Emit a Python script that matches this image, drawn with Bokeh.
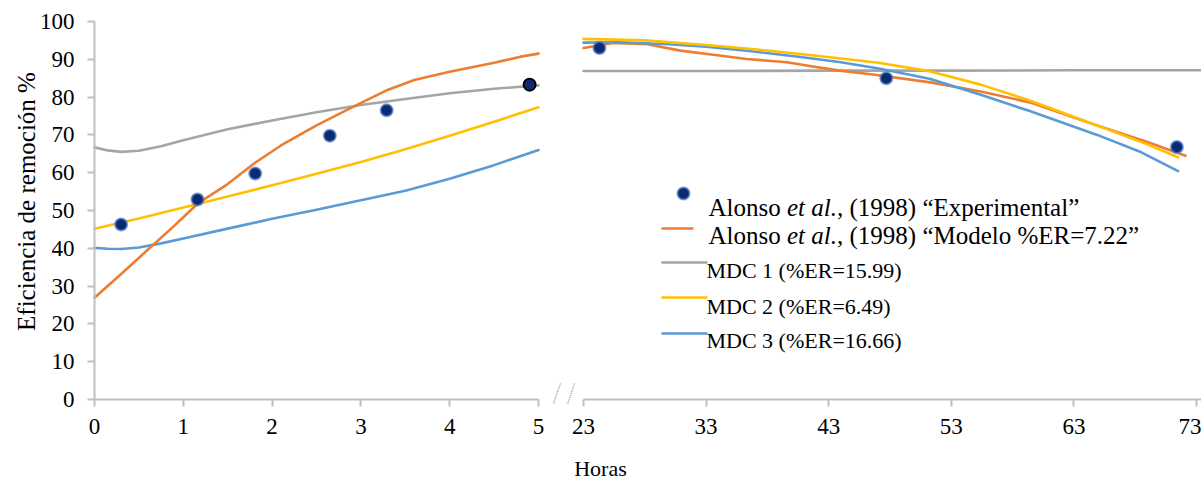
from bokeh.plotting import figure
from bokeh.layouts import row
from bokeh.models import Range1d, FixedTicker, Label, Arrow
from bokeh.embed import file_html
from bokeh.resources import INLINE

# ---------------- data ----------------
# Experimental points (Alonso et al., 1998)
exp_left_h = [0.3, 1.16, 1.81, 2.65, 3.29]
exp_left_v = [46.3, 52.9, 59.8, 69.8, 76.5]
exp_last_h = [4.9]
exp_last_v = [83.3]
exp_right_h = [24.3, 47.7, 71.4]
exp_right_v = [93.0, 85.0, 66.8]

# Modelo (orange)
modelo_left_h = [0, 0.3, 0.6, 0.9, 1.0, 1.16, 1.5, 1.8, 2.1, 2.5, 2.9, 3.3, 3.6, 4.0, 4.5, 4.8, 5.0]
modelo_left_v = [26.9, 33.2, 39.6, 46.0, 48.2, 51.8, 57.0, 62.5, 67.2, 72.5, 77.3, 81.9, 84.5, 86.7, 89.1, 90.7, 91.5]
modelo_right_h = [23, 25.4, 28.2, 30.9, 33.1, 36.3, 39.6, 41.7, 43.9, 46.6, 51.3, 55.4, 59.4, 64.9, 69, 72.1]
modelo_right_v = [93.0, 94.3, 94.0, 92.3, 91.4, 90.1, 89.2, 88.1, 87.0, 86.0, 83.9, 81.5, 78.6, 72.5, 68.1, 64.5]

# MDC 1 (gray)
mdc1_left_h = [0, 0.15, 0.3, 0.5, 0.75, 1.0, 1.5, 2.0, 2.5, 3.0, 3.5, 4.0, 4.5, 5.0]
mdc1_left_v = [66.7, 65.9, 65.5, 65.8, 67.0, 68.6, 71.5, 73.8, 76.0, 77.9, 79.5, 81.0, 82.2, 83.1]
mdc1_right_h = [23, 33, 43, 53, 63, 73.4]
mdc1_right_v = [86.9, 86.9, 87.0, 87.0, 87.1, 87.1]

# MDC 2 (yellow)
mdc2_left_h = [0, 0.5, 1, 1.5, 2, 2.5, 3, 3.5, 4, 4.5, 5]
mdc2_left_v = [45.2, 47.9, 50.8, 53.7, 56.7, 59.7, 62.8, 66.2, 69.8, 73.5, 77.3]
mdc2_right_h = [23, 28, 32.5, 36.5, 40.7, 44, 47.2, 51.3, 55.4, 59.4, 64.9, 69, 71.5]
mdc2_right_v = [95.4, 95.0, 93.9, 92.8, 91.4, 90.2, 89.0, 86.8, 83.3, 79.1, 72.5, 67.5, 64.1]

# MDC 3 (blue)
mdc3_left_h = [0, 0.15, 0.3, 0.5, 0.75, 1.0, 1.5, 2.0, 2.5, 3.0, 3.5, 4.0, 4.5, 5.0]
mdc3_left_v = [40.1, 39.9, 39.8, 40.2, 41.3, 42.6, 45.2, 47.8, 50.2, 52.7, 55.2, 58.4, 62.0, 66.0]
mdc3_right_h = [23, 26, 30, 33, 36.5, 40.7, 44, 47.2, 51.3, 55.4, 59.4, 64.9, 68.5, 71.5]
mdc3_right_v = [94.4, 94.5, 94.0, 93.3, 92.2, 90.6, 89.2, 87.5, 84.8, 80.6, 76.3, 70.0, 65.4, 60.4]

left_ticks = [0, 1, 2, 3, 4, 5]
right_ticks = [23, 33, 43, 53, 63, 73]
y_ticks = [0, 10, 20, 30, 40, 50, 60, 70, 80, 90, 100]

y_title = "Eficiencia de remoci\u00f3n %"
x_title = "Horas"
legend_labels = [
    ("Alonso ", "et al.", ", (1998) \u201cExperimental\u201d"),
    ("Alonso ", "et al.", ", (1998) \u201cModelo %ER=7.22\u201d"),
    "MDC 1 (%ER=15.99)",
    "MDC 2 (%ER=6.49)",
    "MDC 3 (%ER=16.66)",
]

# ---------------- style / layout ----------------
FONT = "Liberation Serif"
C_ORANGE = "#ED7D31"
C_GRAY = "#A5A5A5"
C_YELLOW = "#FFC000"
C_BLUE = "#5B9BD5"
C_PT = "#0B2A6F"
C_PT_EDGE = "#4A78C8"
C_AXIS = "#BFBFBF"
LW = 2.6

H = 480
TOTAL_W = 1201
SPLIT = 563                 # where the two canvases meet
X0_PX, X5_PX = 94, 538      # pixel of 0 h and 5 h
X23_PX, X73_PX = 583, 1196  # pixel of 23 h and 73 h
FT, FB = 21, 399            # pixel of 100 % and 0 %

ppu1 = (X5_PX - X0_PX) / 5.0
ppu2 = (X73_PX - X23_PX) / 50.0
ppv = (FB - FT) / 100.0
# frames fill both canvases; axes are placed at fixed data locations
X1 = (-X0_PX / ppu1, (SPLIT - X0_PX) / ppu1)
X2 = (23 - (X23_PX - SPLIT) / ppu2, 23 + (TOTAL_W - X23_PX) / ppu2)
Y = (-(H - FB) / ppv, 100 + FT / ppv)

def x1(px): return (px - X0_PX) / ppu1
def x2(px): return 23 + (px - X23_PX) / ppu2
def yy(py): return (FB - py) / ppv

def style(p):
    p.outline_line_color = None
    p.xgrid.visible = False
    p.ygrid.visible = False
    p.background_fill_color = "white"
    p.border_fill_color = "white"
    for ax in p.axis:
        ax.axis_line_color = C_AXIS
        ax.axis_line_width = 2
        ax.major_tick_line_color = C_AXIS
        ax.major_tick_line_width = 2
        ax.minor_tick_line_color = None
        ax.major_tick_in = 0
        ax.major_tick_out = 7
        ax.major_label_text_font = FONT
        ax.major_label_text_font_size = "23px"
        ax.major_label_text_color = "black"

p1 = figure(width=SPLIT, height=H, x_range=Range1d(*X1), y_range=Range1d(*Y),
            output_backend="svg", toolbar_location=None,
            min_border_left=0, min_border_right=0, min_border_top=0, min_border_bottom=0)
style(p1)
p1.xaxis.ticker = FixedTicker(ticks=left_ticks)
p1.xaxis.bounds = (0, 5)
p1.xaxis.fixed_location = 0
p1.xaxis.major_label_standoff = 12
p1.yaxis.ticker = FixedTicker(ticks=y_ticks)
p1.yaxis.bounds = (0, 100)
p1.yaxis.fixed_location = 0
p1.yaxis.major_label_standoff = 13

p2 = figure(width=TOTAL_W - SPLIT, height=H, x_range=Range1d(*X2), y_range=Range1d(*Y),
            output_backend="svg", toolbar_location=None,
            min_border_left=0, min_border_right=0, min_border_top=0, min_border_bottom=0)
style(p2)
p2.yaxis.visible = False
p2.xaxis.ticker = FixedTicker(ticks=right_ticks)
p2.xaxis.bounds = (23, X2[1])
p2.xaxis.fixed_location = 0
p2.xaxis.major_label_standoff = 12

# axis titles
p1.add_layout(Label(x=x1(26), y=yy(201), text=y_title, angle=90, angle_units="deg",
                    text_font=FONT, text_font_size="25px", text_align="center",
                    text_baseline="middle", text_color="black"))
p2.add_layout(Label(x=x2(600), y=yy(468), text=x_title, text_font=FONT, text_font_size="22px",
                    text_align="center", text_baseline="middle", text_color="black"))

# lines
for p, series in [
    (p1, [(mdc1_left_h, mdc1_left_v, C_GRAY), (mdc2_left_h, mdc2_left_v, C_YELLOW),
          (mdc3_left_h, mdc3_left_v, C_BLUE), (modelo_left_h, modelo_left_v, C_ORANGE)]),
    (p2, [(mdc1_right_h, mdc1_right_v, C_GRAY), (modelo_right_h, modelo_right_v, C_ORANGE),
          (mdc3_right_h, mdc3_right_v, C_BLUE), (mdc2_right_h, mdc2_right_v, C_YELLOW)]),
]:
    for xs, ys, c in series:
        p.line(xs, ys, line_color=c, line_width=LW, line_join="round", line_cap="round")

p1.scatter(exp_left_h, exp_left_v, size=12, fill_color=C_PT, line_color=C_PT_EDGE, line_width=2, line_alpha=0.7)
p1.scatter(exp_last_h, exp_last_v, size=12, fill_color=C_PT, line_color="black", line_width=2)
p2.scatter(exp_right_h, exp_right_v, size=12, fill_color=C_PT, line_color=C_PT_EDGE, line_width=2, line_alpha=0.7)

# axis break marks
p1.add_layout(Arrow(end=None, x_start=x1(560), y_start=yy(383), x_end=x1(553), y_end=yy(403),
                    line_color="#A0A0A0", line_width=1.5, line_dash="1 1"))
p2.add_layout(Arrow(end=None, x_start=x2(574), y_start=yy(383), x_end=x2(567), y_end=yy(404),
                    line_color="#A0A0A0", line_width=1.5, line_dash="1 1"))

# legend
p2.scatter([x2(683)], [yy(193)], size=12, fill_color=C_PT, line_color=C_PT_EDGE, line_width=2, line_alpha=0.7)
p2.line([x2(661), x2(693)], [yy(228), yy(228)], line_color=C_ORANGE, line_width=LW)
p2.line([x2(661), x2(707)], [yy(262), yy(262)], line_color=C_GRAY, line_width=LW)
p2.line([x2(661), x2(707)], [yy(297), yy(297)], line_color=C_YELLOW, line_width=LW)
p2.line([x2(661), x2(707)], [yy(333), yy(333)], line_color=C_BLUE, line_width=LW)

FS_A = 25
for (pre, ital, post), base in zip(legend_labels[:2], [207, 235]):
    x0 = 708
    p2.add_layout(Label(x=x2(x0), y=yy(base), text=pre, text_font=FONT, text_font_size=f"{FS_A}px",
                        text_baseline="alphabetic", text_color="black"))
    p2.add_layout(Label(x=x2(x0 + 3.139 * FS_A), y=yy(base), text=ital, text_font=FONT,
                        text_font_size=f"{FS_A}px", text_font_style="italic",
                        text_baseline="alphabetic", text_color="black"))
    p2.add_layout(Label(x=x2(x0 + 5.139 * FS_A), y=yy(base), text=post, text_font=FONT,
                        text_font_size=f"{FS_A}px", text_baseline="alphabetic", text_color="black"))
for txt, base in zip(legend_labels[2:], [270, 306, 340]):
    p2.add_layout(Label(x=x2(706), y=yy(base), text=txt, text_font=FONT, text_font_size="22px",
                        text_baseline="alphabetic", text_color="black"))

layout = row(p1, p2, spacing=0)
open("out.html", "w").write(file_html(layout, INLINE))
